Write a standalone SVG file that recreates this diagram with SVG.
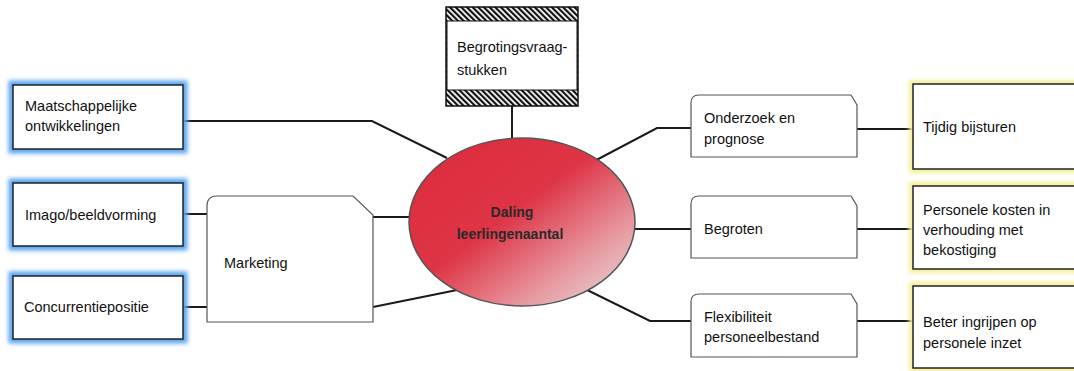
<svg xmlns="http://www.w3.org/2000/svg" width="1074" height="371" viewBox="0 0 1074 371">
<style>
  .t { font-family: "Liberation Sans", Arial, sans-serif; font-size: 14.5px; fill: #111; }
  .tb { font-family: "Liberation Sans", Arial, sans-serif; font-size: 14px; font-weight: bold; fill: #2a2a2a; text-anchor: middle; }
  .box { fill: #fff; stroke: #222; stroke-width: 1.5; }
  .sub { fill: #fff; stroke: #555; stroke-width: 1.2; }
  .glowB { fill: none; stroke: #5aa6f0; stroke-width: 9; filter: url(#blur); }
  .glowY { fill: none; stroke: #f4ef9a; stroke-width: 8; filter: url(#blur); }
  .c { fill: none; stroke: #1a1a1a; stroke-width: 2; }
</style>
<defs>
  <filter id="blur" x="-20%" y="-20%" width="140%" height="140%"><feGaussianBlur stdDeviation="2.2"/></filter>
  <pattern id="hatch" width="4" height="4" patternUnits="userSpaceOnUse" patternTransform="rotate(-45)">
    <rect width="4" height="4" fill="#fff"/>
    <rect width="2.2" height="4" fill="#111"/>
  </pattern>
  <linearGradient id="eg" x1="0" y1="0" x2="1" y2="1">
    <stop offset="0" stop-color="#dc2a3c"/>
    <stop offset="0.45" stop-color="#de3546"/>
    <stop offset="0.75" stop-color="#e79aa2"/>
    <stop offset="1" stop-color="#e6e2e2"/>
  </linearGradient>
</defs>

<g id="connectors">
  <polyline class="c" points="512,106 512,145"/>
  <polyline class="c" points="183,121 372,121 447,158"/>
  <line class="c" x1="183" y1="214" x2="207" y2="214"/>
  <line class="c" x1="183" y1="307" x2="207" y2="307"/>
  <line class="c" x1="373" y1="217" x2="415" y2="217"/>
  <line class="c" x1="373" y1="307" x2="462" y2="289"/>
  <polyline class="c" points="585,166 657,128 691,128"/>
  <line class="c" x1="630" y1="229" x2="691" y2="229"/>
  <polyline class="c" points="575,284 650,321 691,321"/>
  <line class="c" x1="857" y1="129" x2="913" y2="129"/>
  <line class="c" x1="857" y1="229" x2="913" y2="229"/>
  <line class="c" x1="857" y1="321" x2="913" y2="321"/>
</g>

<g id="begrotingsvraagstukken">
  <rect x="446" y="7" width="132" height="99" fill="url(#hatch)" stroke="#111" stroke-width="1.5"/>
  <rect x="447" y="21" width="130" height="69" fill="#fff" stroke="#111" stroke-width="1"/>
  <text class="t" x="457" y="52">Begrotingsvraag-</text>
  <text class="t" x="457" y="75">stukken</text>
</g>

<g id="maatschappelijke">
  <rect class="glowB" x="13" y="85" width="170" height="64"/>
  <rect class="box" x="13" y="85" width="170" height="64"/>
  <text class="t" x="25" y="111">Maatschappelijke</text>
  <text class="t" x="25" y="131">ontwikkelingen</text>
</g>

<g id="imago">
  <rect class="glowB" x="13" y="183" width="170" height="63"/>
  <rect class="box" x="13" y="183" width="170" height="63"/>
  <text class="t" x="25" y="220">Imago/beeldvorming</text>
</g>

<g id="concurrentie">
  <rect class="glowB" x="13" y="276" width="170" height="63"/>
  <rect class="box" x="13" y="276" width="170" height="63"/>
  <text class="t" x="24" y="312">Concurrentiepositie</text>
</g>

<g id="marketing">
  <path class="sub" d="M207,322 L207,206 Q207,196 217,196 L353,196 L373,215 L373,322 Z"/>
  <text class="t" x="224" y="268">Marketing</text>
</g>

<g id="daling">
  <ellipse cx="522" cy="222" rx="113" ry="84" fill="url(#eg)" stroke="#555" stroke-width="1.5"/>
  <text class="tb" x="512" y="217">Daling</text>
  <text class="tb" x="510" y="239">leerlingenaantal</text>
</g>

<g id="onderzoek">
  <path class="sub" d="M691,157 L691,103 Q691,95 699,95 L851,95 L857,105 L857,157 Z"/>
  <text class="t" x="704" y="123">Onderzoek en</text>
  <text class="t" x="704" y="144">prognose</text>
</g>

<g id="begroten">
  <path class="sub" d="M691,258 L691,204 Q691,196 699,196 L851,196 L857,206 L857,258 Z"/>
  <text class="t" x="704" y="234">Begroten</text>
</g>

<g id="flexibiliteit">
  <path class="sub" d="M691,357 L691,302 Q691,294 699,294 L851,294 L857,304 L857,357 Z"/>
  <text class="t" x="704" y="322">Flexibiliteit</text>
  <text class="t" x="704" y="342">personeelbestand</text>
</g>

<g id="tijdig">
  <rect class="glowY" x="913" y="84" width="170" height="85"/>
  <rect class="box" x="913" y="84" width="170" height="85"/>
  <text class="t" x="923" y="132">Tijdig bijsturen</text>
</g>

<g id="personele">
  <rect class="glowY" x="913" y="186" width="170" height="83"/>
  <rect class="box" x="913" y="186" width="170" height="83"/>
  <text class="t" x="923" y="215">Personele kosten in</text>
  <text class="t" x="923" y="235">verhouding met</text>
  <text class="t" x="923" y="255">bekostiging</text>
</g>

<g id="beter">
  <rect class="glowY" x="913" y="286" width="170" height="82"/>
  <rect class="box" x="913" y="286" width="170" height="82"/>
  <text class="t" x="923" y="327">Beter ingrijpen op</text>
  <text class="t" x="923" y="348">personele inzet</text>
</g>
</svg>
